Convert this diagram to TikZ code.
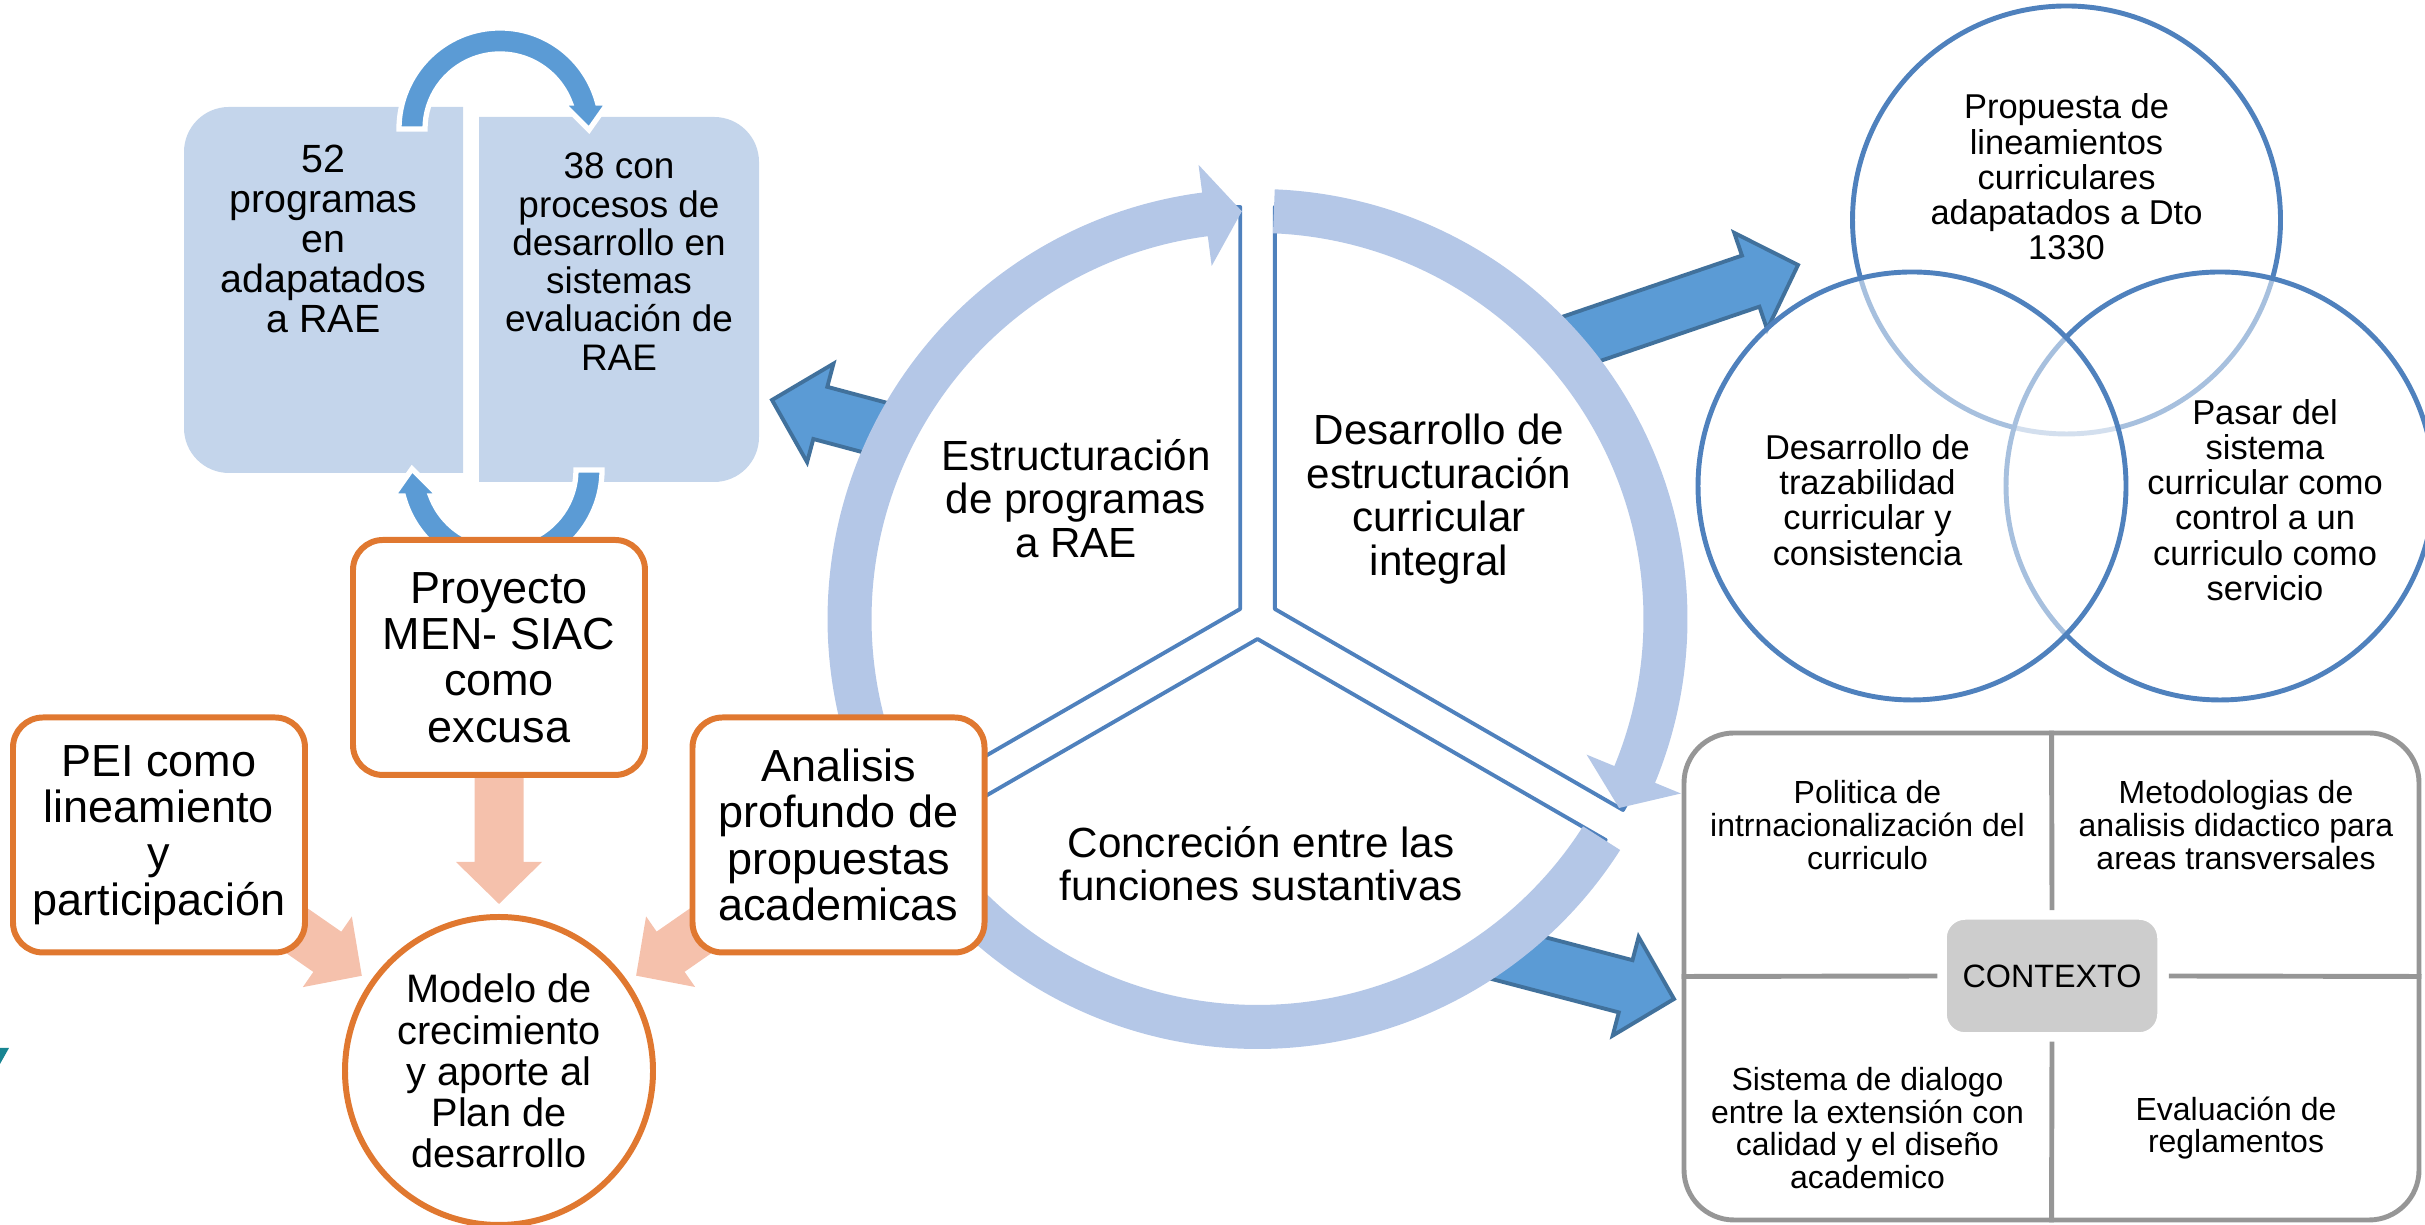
\documentclass[tikz,border=0pt]{standalone}
\usepackage{fontspec}
\setmainfont{Liberation Sans}
\usetikzlibrary{positioning,calc}

\definecolor{boxblue}{RGB}{196,213,235}
\definecolor{ringblue}{RGB}{180,199,231}
\definecolor{arrowblue}{RGB}{91,155,213}
\definecolor{arrowedge}{RGB}{65,113,156}
\definecolor{lineblue}{RGB}{79,129,189}
\definecolor{orangeline}{RGB}{224,120,48}
\definecolor{salmon}{RGB}{245,193,172}
\definecolor{framegray}{RGB}{150,150,150}
\definecolor{ctxgray}{RGB}{205,205,205}
\definecolor{tealmark}{RGB}{24,133,146}

\pgfdeclarelayer{back}
\pgfsetlayers{back,main}

\tikzstyle{lbox} = [rectangle, fill=white, inner sep=0pt]
\tikzstyle{roundleft} = [path picture={\fill[boxblue, rounded corners=0.45cm] (path picture bounding box.south west) rectangle ([xshift=1cm]path picture bounding box.north east);}]
\tikzstyle{roundright} = [path picture={\fill[boxblue, rounded corners=0.45cm] ([xshift=-1cm]path picture bounding box.south west) rectangle (path picture bounding box.north east);}]
\tikzstyle{orangebox} = [draw=orangeline, fill=white, line width=1.7pt, rectangle,
    rounded corners=0.3cm, minimum width=2.92cm, minimum height=2.35cm,
    align=center, inner sep=0pt, font=\fontsize{12.8}{13.2}\selectfont]
\tikzstyle{orangecircle} = [draw=orangeline, fill=white, line width=1.7pt, circle,
    minimum size=3.08cm, align=center, inner sep=0pt, font=\fontsize{11.3}{11.7}\selectfont]
\tikzstyle{segtext} = [align=center, inner sep=0pt, font=\fontsize{12}{12.4}\selectfont]
\tikzstyle{sector} = [draw=lineblue, fill=white, line width=1.1pt, line join=round]
\tikzstyle{venn} = [draw=lineblue, line width=1.4pt, circle, fill=white, fill opacity=0.5,
    minimum size=4.28cm, inner sep=0pt]
\tikzstyle{venntext} = [align=center, inner sep=0pt, font=\fontsize{9.8}{10}\selectfont]
\tikzstyle{quadtext} = [align=center, inner sep=0pt, font=\fontsize{9.1}{9.3}\selectfont]
\tikzstyle{quadline} = [draw=framegray, line width=1.4pt]
\tikzstyle{bluearrow} = [fill=arrowblue, draw=arrowedge, line width=1.1pt, line join=miter]
\tikzstyle{salmonarrow} = [fill=salmon]

% [style]{tail}{tip}{half shaft}{half head}{head length}
\newcommand{\blockarrow}[6][]{%
  \coordinate (ab) at ($(#3)!#6!(#2)$);
  \path[#1] ($(#2)!#4!90:(#3)$) -- ($(ab)!#4!90:(#3)$) -- ($(ab)!#5!90:(#3)$) -- (#3)
    -- ($(ab)!#5!-90:(#3)$) -- ($(ab)!#4!-90:(#3)$) -- ($(#2)!#4!-90:(#3)$) -- cycle;}

% {start angle}{head base angle}{tip angle}, clockwise round the hub
\newcommand{\ringarrow}[3]{%
  \fill[ringblue] ([shift={(hub)}]#1:4.30) arc[start angle=#1, end angle=#2, radius=4.30]
    -- ([shift={(hub)}]#2:4.58) -- ([shift={(hub)}]#3:4.08) -- ([shift={(hub)}]#2:3.56)
    -- ([shift={(hub)}]#2:3.86) arc[start angle=#2, end angle=#1, radius=3.86] -- cycle;}

\newcommand{\looparrow}[2]{%
  \filldraw[arrowblue, draw=white, line width=1.5pt, shift={#1}, rotate=#2]
    (180:1.01) arc[start angle=180, end angle=14.9, radius=1.01] -- (1.08,0.26) -- (0.89,-0.01)
    -- (0.62,0.26) -- (20.3:0.75) arc[start angle=20.3, end angle=180, radius=0.75] -- cycle;}

\begin{document}
\begin{tikzpicture}
\useasboundingbox (0,0) rectangle (24.25,12.25);

\node [lbox, roundleft, font=\fontsize{11.2}{11.4}\selectfont] (lone) at (3.235,9.35){%
\begin{minipage}[c][3.66cm][t]{2.79cm}
\centering\vspace*{0.38cm}52\\programas\\en\\adapatados\\a RAE
\end{minipage}
};
\node [lbox, roundright, font=\fontsize{10.5}{10.9}\selectfont] (ltwo) at (6.19,9.255){%
\begin{minipage}[c][3.65cm][t]{2.80cm}
\centering\vspace*{0.36cm}38 con\\procesos de\\desarrollo en\\sistemas\\evaluación de\\RAE
\end{minipage}
};
\looparrow{(5.00,10.96)}{0}
\looparrow{(5.01,7.55)}{180}

\coordinate (hub) at (12.575,6.06);
\coordinate (tailL) at ([shift={(hub)}]152.6:4.0);
\coordinate (tipL) at (7.72,8.25);
\coordinate (tailV) at ([shift={(hub)}]42.5:4.0);
\coordinate (tipV) at (17.98,9.60);
\coordinate (tailC) at ([shift={(hub)}]-54.5:4.09);
\coordinate (tipC) at (16.74,2.26);
\blockarrow[bluearrow]{tailL}{tipL}{0.27cm}{0.51cm}{0.50cm}
\blockarrow[bluearrow]{tailV}{tipV}{0.27cm}{0.51cm}{0.50cm}
\blockarrow[bluearrow]{tailC}{tipC}{0.27cm}{0.51cm}{0.50cm}

\coordinate (s1) at ([shift={(hub)}]150:0.2);
\coordinate (s2) at ([shift={(hub)}]30:0.2);
\coordinate (s3) at ([shift={(hub)}]270:0.2);
\draw [sector] (s1) -- ++(90:4.02) arc[start angle=90, end angle=210, radius=4.02] -- cycle;
\draw [sector] (s2) -- ++(-30:4.02) arc[start angle=-30, end angle=90, radius=4.02] -- cycle;
\draw [sector] (s3) -- ++(210:4.02) arc[start angle=210, end angle=330, radius=4.02] -- cycle;
\ringarrow{207.6}{97.4}{92.2}
\ringarrow{87.7}{-22.4}{-27.6}
\ringarrow{-32.5}{-142.6}{-147.8}

\node [segtext] (seg1) at (10.76,7.265) {Estructuración\\de programas\\a RAE};
\node [segtext] (seg2) at (14.39,7.26) {Desarrollo de\\estructuración\\curricular\\integral};
\node [segtext] (seg3) at (12.61,3.615) {Concreción entre las\\funciones sustantivas};

\node [orangebox] (pei) at (1.59,3.90) {PEI como\\lineamiento\\y\\participación};
\node [orangebox] (proy) at (4.99,5.675) {Proyecto\\MEN- SIAC\\como\\excusa};
\node [orangebox] (anal) at (8.385,3.90) {Analisis\\profundo de\\propuestas\\academicas};
\node [orangecircle] (modelo) at (4.99,1.54) {Modelo de\\crecimiento\\y aporte al\\Plan de\\desarrollo};

\begin{pgfonlayer}{back}
\coordinate (peitail) at ($(modelo.center)!2.96cm!(pei.center)$);
\coordinate (peitip) at ($(modelo.center)!1.67cm!(pei.center)$);
\coordinate (proytail) at ($(modelo.center)!2.96cm!(proy.center)$);
\coordinate (proytip) at ($(modelo.center)!1.67cm!(proy.center)$);
\coordinate (analtail) at ($(modelo.center)!2.96cm!(anal.center)$);
\coordinate (analtip) at ($(modelo.center)!1.67cm!(anal.center)$);
\blockarrow[salmonarrow]{peitail}{peitip}{0.245cm}{0.43cm}{0.42cm}
\blockarrow[salmonarrow]{proytail}{proytip}{0.245cm}{0.43cm}{0.42cm}
\blockarrow[salmonarrow]{analtail}{analtip}{0.245cm}{0.43cm}{0.42cm}
\end{pgfonlayer}

\node [venn] (vtop) at (20.665,10.05) {};
\node [venn] (vright) at (22.20,7.39) {};
\node [venn] (vleft) at (19.12,7.39) {};
\node [venntext] (vtoptxt) at ([yshift=0.43cm]vtop.center) {Propuesta de\\lineamientos\\curriculares\\adapatados a Dto\\1330};
\node [venntext] (vlefttxt) at ([xshift=-0.445cm,yshift=-0.14cm]vleft.center) {Desarrollo de\\trazabilidad\\curricular y\\consistencia};
\node [venntext] (vrighttxt) at ([xshift=0.45cm,yshift=-0.14cm]vright.center) {Pasar del\\sistema\\curricular como\\control a un\\curriculo como\\servicio};

\node [draw=framegray, line width=1.4pt, rounded corners=0.5cm, minimum width=7.35cm,
  minimum height=4.87cm] (ctxframe) at (20.515,2.485) {};
\node [fill=ctxgray, draw=white, line width=1pt, rounded corners=0.2cm, minimum width=2.14cm,
  minimum height=1.16cm, font=\fontsize{9.2}{9.4}\selectfont] (ctx) at (20.52,2.49) {CONTEXTO};
\draw [quadline] (ctxframe.north) -- ([yshift=0.06cm]ctx.north);
\draw [quadline] (ctxframe.south) -- ([yshift=-0.06cm]ctx.south);
\draw [quadline] (ctxframe.west) -- ([xshift=-0.06cm]ctx.west);
\draw [quadline] (ctxframe.east) -- ([xshift=0.08cm]ctx.east);
\node [quadtext] (qtl) at ([xshift=-1.84cm,yshift=1.515cm]ctxframe.center) {Politica de\\intrnacionalización del\\curriculo};
\node [quadtext] (qtr) at ([xshift=1.845cm,yshift=1.515cm]ctxframe.center) {Metodologias de\\analisis didactico para\\areas transversales};
\node [quadtext] (qbl) at ([xshift=-1.84cm,yshift=-1.515cm]ctxframe.center) {Sistema de dialogo\\entre la extensión con\\calidad y el diseño\\academico};
\node [quadtext] (qbr) at ([xshift=1.845cm,yshift=-1.515cm]ctxframe.center) {Evaluación de\\reglamentos};

\fill [tealmark] (0,1.77) -- (0.09,1.77) -- (0,1.61) -- cycle;
\end{tikzpicture}
\end{document}
